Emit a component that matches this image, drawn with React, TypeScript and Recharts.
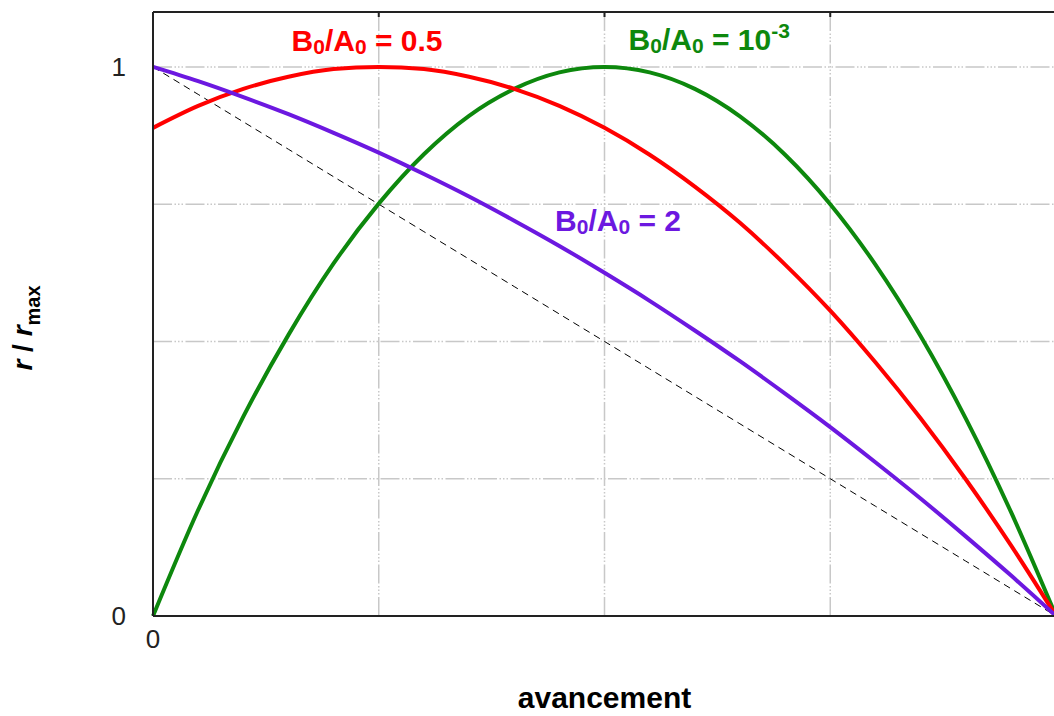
import React from 'react';
import { LineChart, Line, XAxis, YAxis, ReferenceLine, ReferenceDot } from 'recharts';

// Reaction progress (fraction of A consumed)
const progress = [0, 0.05, 0.1, 0.15, 0.2, 0.25, 0.3, 0.35, 0.4, 0.45, 0.5, 0.55, 0.6, 0.65, 0.7, 0.75, 0.8, 0.85, 0.9, 0.95, 1];

// Normalised rate r / r_max for each initial ratio B0/A0
const rateRatio1e3 = [0, 0.193, 0.363, 0.512, 0.642, 0.751, 0.841, 0.911, 0.96, 0.99, 1, 0.99, 0.96, 0.91, 0.84, 0.75, 0.64, 0.51, 0.36, 0.19, 0];
const rateRatio05 = [0.889, 0.929, 0.96, 0.982, 0.996, 1, 0.996, 0.982, 0.96, 0.929, 0.889, 0.84, 0.782, 0.716, 0.64, 0.556, 0.462, 0.36, 0.249, 0.129, 0];
const rateRatio2 = [1, 0.974, 0.945, 0.914, 0.88, 0.844, 0.805, 0.764, 0.72, 0.674, 0.625, 0.574, 0.52, 0.464, 0.405, 0.344, 0.28, 0.214, 0.145, 0.074, 0];
const firstOrder = [1, 0.95, 0.9, 0.85, 0.8, 0.75, 0.7, 0.65, 0.6, 0.55, 0.5, 0.45, 0.4, 0.35, 0.3, 0.25, 0.2, 0.15, 0.1, 0.05, 0];

const yTicks = [0, 1];
const xTicks = [0];
const yGrid = [0.25, 0.5, 0.75, 1];
const xGrid = [0.25, 0.5, 0.75];

const data = progress.map((x, i) => ({
  x,
  g: rateRatio1e3[i],
  r: rateRatio05[i],
  p: rateRatio2[i],
  d: firstOrder[i],
}));

const FONT = '"Liberation Sans", Arial, sans-serif';
const RED = '#ff0000';
const GREEN = '#0d880d';
const PURPLE = '#6c18e0';
const GRID = '#c8c8c8';
const GRID_DASH = '19 2.5 1.5 2 1.5 2 1.5 2.5';

// Curve annotations placed in data coordinates
const annotations = [
  { x: 0.237, y: 1.029, color: RED, value: '0.5', sup: '' },
  { x: 0.616, y: 1.031, color: GREEN, value: '10', sup: '-3' },
  { x: 0.515, y: 0.701, color: PURPLE, value: '2', sup: '' },
];

const RatioLabel = ({ cx, cy, color, value, sup }: any) => (
  <text
    x={cx}
    y={cy}
    textAnchor="middle"
    fill={color}
    fontFamily={FONT}
    fontWeight="bold"
    fontSize={30}
  >
    <tspan>B</tspan>
    <tspan fontSize={21} dy={3}>0</tspan>
    <tspan dy={-3}>/A</tspan>
    <tspan fontSize={21} dy={3}>0</tspan>
    <tspan dy={-3}>{' = ' + value}</tspan>
    {sup ? (
      <tspan fontSize={21} dy={-12}>{sup}</tspan>
    ) : null}
  </text>
);

const YTitle = ({ viewBox }: any) => {
  const cx = viewBox.x - 120;
  const cy = viewBox.y + viewBox.height / 2 + 14;
  return (
    <text
      x={cx}
      y={cy}
      transform={`rotate(-90 ${cx} ${cy})`}
      textAnchor="middle"
      fill="#000"
      fontFamily={FONT}
      fontWeight="bold"
      fontSize={28}
    >
      <tspan fontStyle="italic">r</tspan>
      <tspan> / </tspan>
      <tspan fontStyle="italic">r</tspan>
      <tspan fontSize={20} dy={8}>max</tspan>
    </text>
  );
};

const XTitle = ({ viewBox }: any) => (
  <text
    x={viewBox.x + viewBox.width / 2}
    y={viewBox.y + 92}
    textAnchor="middle"
    fill="#000"
    fontFamily={FONT}
    fontWeight="bold"
    fontSize={30}
  >
    avancement
  </text>
);

export default function App() {
  return (
    <div
      style={{
        position: 'fixed',
        left: 0,
        top: 0,
        width: 1054,
        height: 716,
        overflow: 'hidden',
        background: '#fff',
      }}
    >
      <LineChart
        width={1080}
        height={716}
        data={data}
        margin={{ top: 12, right: 24, left: 152, bottom: 99 }}
      >
        <XAxis
          dataKey="x"
          type="number"
          domain={[0, 1]}
          ticks={xTicks}
          height={1}
          tickSize={0}
          tickMargin={14}
          axisLine={{ stroke: '#222', strokeWidth: 2 }}
          tick={{ fill: '#222', fontSize: 26, fontFamily: FONT }}
          label={<XTitle />}
        />
        <XAxis
          xAxisId="top"
          orientation="top"
          dataKey="x"
          type="number"
          domain={[0, 1]}
          ticks={xGrid}
          height={1}
          mirror
          tickSize={5}
          tickLine={{ stroke: '#222', strokeWidth: 2 }}
          axisLine={{ stroke: '#222', strokeWidth: 2 }}
          tick={() => <g />}
        />
        <YAxis
          type="number"
          domain={[0, 1.1]}
          ticks={yTicks}
          width={1}
          tickSize={0}
          tickMargin={27}
          tickLine={false}
          axisLine={{ stroke: '#222', strokeWidth: 2 }}
          tick={{ fill: '#222', fontSize: 26, fontFamily: FONT }}
          label={<YTitle />}
        />
        {yGrid.map((v) => (
          <ReferenceLine key={'h' + v} y={v} stroke={GRID} strokeWidth={1.5} strokeDasharray={GRID_DASH} />
        ))}
        {xGrid.map((v) => (
          <ReferenceLine key={'v' + v} x={v} stroke={GRID} strokeWidth={1.5} strokeDasharray={GRID_DASH} />
        ))}
        <Line dataKey="d" type="linear" stroke="#000" strokeWidth={1} strokeDasharray="7 5" dot={false} isAnimationActive={false} />
        <Line dataKey="g" type="monotone" stroke={GREEN} strokeWidth={4} dot={false} isAnimationActive={false} />
        <Line dataKey="r" type="monotone" stroke={RED} strokeWidth={4} dot={false} isAnimationActive={false} />
        <Line dataKey="p" type="monotone" stroke={PURPLE} strokeWidth={4} dot={false} isAnimationActive={false} />
        {annotations.map((a) => (
          <ReferenceDot
            key={a.value}
            x={a.x}
            y={a.y}
            r={0}
            shape={(props: any) => (
              <RatioLabel cx={props.cx} cy={props.cy} color={a.color} value={a.value} sup={a.sup} />
            )}
          />
        ))}
      </LineChart>
    </div>
  );
}
